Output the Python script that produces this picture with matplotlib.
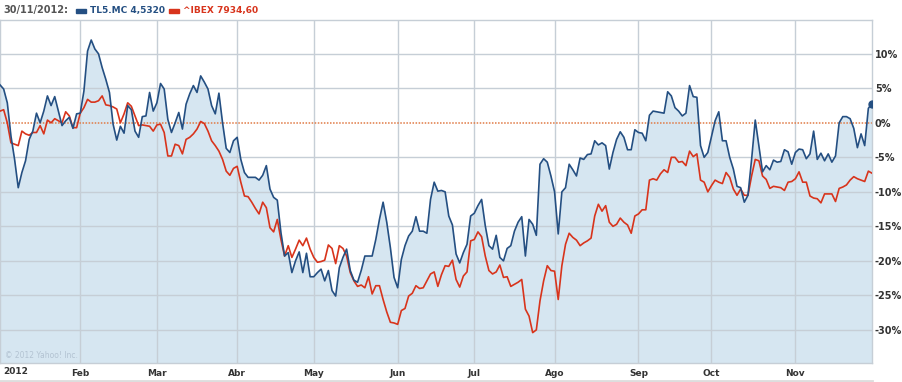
import numpy as np
import pandas as pd
import matplotlib
matplotlib.use("Agg")
import matplotlib.pyplot as plt
from matplotlib.lines import Line2D
from matplotlib.patches import Rectangle

# trading days (weekdays) Jan 2 - Nov 30 2012
dates = pd.bdate_range("2012-01-02", "2012-11-30")

# % change, TL5.MC
tl5 = [
    5.5, 4.9, 2.9, -1.9, -5.3, -9.4, -7.2, -5.5, -2.4, -1.2, 1.4, 0.0, 1.7, 3.9, 2.5,
    3.8, 1.7, -0.4, 0.3, 0.8, -0.8, 1.3, 1.4, 4.6, 10.4, 12.0, 10.7, 10.0, 8.0, 6.3,
    4.4, -0.2, -2.5, -0.5, -1.5, 2.5, 1.9, -1.2, -2.1, 0.9, 1.0, 4.4,
    1.7, 2.9, 5.7, 4.9, 0.5, -1.4, 0.0, 1.5, -0.9, 2.7, 4.2, 5.4, 4.4, 6.8, 5.9,
    4.9, 2.5, 1.3, 4.3, 0.0, -3.7, -4.3, -2.6, -2.1, -5.3, -7.2, -7.9, -7.9, -7.9,
    -8.3, -7.6, -6.2, -9.6, -10.8, -11.2, -15.9, -19.3, -18.8, -21.7,
    -20.0, -18.7, -21.7, -18.9, -22.3, -22.3, -21.7, -21.2, -22.9, -21.4, -24.3,
    -25.1, -21.0, -19.5, -18.3, -21.4, -22.8, -23.1, -21.4, -19.3, -19.3, -19.3,
    -16.9, -14.0, -11.5, -14.4, -18.1, -22.4, -23.9, -19.8, -17.8, -16.4, -15.7,
    -13.6, -15.7, -15.7, -16.0, -11.1, -8.6, -9.9,
    -9.8, -10.0, -13.5, -14.8, -19.0, -20.3, -18.8, -17.6, -13.5, -13.1, -12.0,
    -11.1, -14.9, -17.8, -18.3, -16.3, -19.5, -20.0, -18.2, -17.8, -15.7, -14.4,
    -13.6, -19.3, -14.0, -14.7, -16.3, -6.0, -5.2, -5.7, -7.7, -10.0, -16.1, -10.0,
    -9.4, -6.0, -6.8, -7.7, -5.1, -5.3,
    -4.6, -4.5, -2.6, -3.2, -2.9, -3.3, -6.7, -4.3, -2.4, -1.3, -2.1, -3.9, -3.9,
    -1.0, -1.4, -1.5, -2.6, 1.1, 1.7, 1.6, 1.5, 1.4, 4.5, 3.9, 2.2, 1.7, 1.0, 1.4,
    5.4, 3.8, 3.7, -3.3, -5.0, -4.3, -2.0, 0.3, 1.6, -2.6, -2.6, -5.0,
    -6.7, -9.2, -9.4, -11.5, -10.5, -5.3, 0.4, -3.3, -7.1, -6.2, -6.8, -5.4, -5.7,
    -5.6, -3.9, -4.2, -6.0, -4.3, -3.8, -3.9, -5.2, -4.5, -1.2, -5.3, -4.4, -5.5,
    -4.5, -5.7, -4.8, 0.0, 0.9, 0.9, 0.6, -0.8, -3.6, -1.6, -3.3, 2.1, 2.8,
]

# % change, ^IBEX
ibex = [
    1.7, 1.9, 0.0, -2.9, -3.1, -3.3, -1.2, -1.6, -1.8, -1.4, -1.4, -0.4, -1.6, 0.4,
    0.0, 0.6, 0.3, 0.0, 1.6, 1.0, -0.7, -0.7, 1.4, 2.2, 3.4, 3.0, 3.0, 3.2, 3.9, 2.6,
    2.5, 2.3, 2.0, 0.0, 1.3, 2.9, 2.4, 1.0, -0.4, -0.3, -0.4, -0.5,
    -1.2, -0.3, -0.2, -1.4, -4.8, -4.8, -3.1, -3.3, -4.5, -2.4, -2.1, -1.6, -0.9,
    0.2, -0.1, -1.2, -2.6, -3.3, -4.1, -5.3, -7.0, -7.6, -6.6, -6.3, -8.6, -10.6,
    -10.7, -11.5, -12.4, -13.2, -11.5, -12.3, -15.2, -15.8, -14.0, -16.9, -19.3,
    -17.8, -19.5,
    -18.3, -17.0, -17.8, -16.7, -18.3, -19.5, -20.2, -20.1, -19.9, -17.7, -18.2,
    -20.4, -17.8, -18.2, -19.3, -21.7, -22.9, -23.7, -23.5, -23.9, -22.3, -24.8,
    -23.6, -23.6, -25.6, -27.4, -28.9, -29.0, -29.2, -27.2, -26.9, -25.1, -24.7,
    -23.6, -24.0, -23.9, -22.9, -21.9, -21.6, -23.7,
    -22.0, -20.7, -20.8, -19.9, -22.7, -23.8, -22.2, -21.6, -17.1, -16.9, -15.8,
    -16.5, -19.3, -21.4, -21.9, -21.6, -20.6, -22.4, -22.3, -23.7, -23.4, -23.1,
    -22.7, -27.0, -28.0, -30.4, -30.0, -25.8, -22.9, -20.7, -21.4, -21.5, -25.6,
    -20.7, -17.6, -16.0, -16.6, -17.0, -17.8, -17.4,
    -17.1, -16.7, -13.5, -11.8, -12.8, -12.0, -14.4, -15.0, -14.7, -13.8, -14.4,
    -14.8, -16.0, -13.5, -13.2, -12.6, -12.6, -8.3, -8.1, -8.3, -7.4, -6.8, -7.2,
    -5.0, -5.0, -5.7, -5.6, -6.2, -4.1, -4.9, -4.5, -8.3, -8.6, -10.0, -9.1, -8.3,
    -8.6, -8.8, -7.2, -7.9,
    -9.6, -10.5, -9.6, -10.5, -10.5, -7.7, -5.3, -5.5, -7.7, -8.2, -9.5, -9.2, -9.3,
    -9.4, -9.8, -8.6, -8.5, -8.1, -7.1, -8.6, -8.6, -10.6, -10.9, -11.0, -11.6,
    -10.3, -10.3, -10.3, -11.4, -9.5, -9.3, -9.0, -8.3, -7.8, -8.1, -8.3, -8.5,
    -7.0, -7.3,
]

month_labels = ["Feb", "Mar", "Abr", "May", "Jun", "Jul", "Ago", "Sep", "Oct", "Nov"]
y_ticks = [10, 5, 0, -5, -10, -15, -20, -25, -30]

BLUE = "#244f82"
RED = "#d8341c"
FILL = "#d6e6f1"
GRID = "#c6ced6"
TXT = "#333333"

W, H = 903, 382
fig = plt.figure(figsize=(W / 100, H / 100), dpi=100)
ax = fig.add_axes([0, 19 / H, 872 / W, 343 / H])

x = np.arange(len(dates))
month_idx = [i for i in range(1, len(dates)) if dates[i].month != dates[i - 1].month]

ax.fill_between(x, tl5, -40, color=FILL, lw=0, zorder=1)
for v in y_ticks:
    if v != 0:
        ax.axhline(v, color=GRID, lw=1, zorder=2)
for m in month_idx:
    ax.axvline(m, color=GRID, lw=1, zorder=2)
ax.axhline(0, color="#e07a45", lw=1.1, ls=(0, (1, 1)), zorder=2.5)

ax.plot(x, ibex, color=RED, lw=1.2, zorder=3)
ax.plot(x, tl5, color=BLUE, lw=1.2, zorder=4)
ax.plot(x[-1], tl5[-1], "o", ms=5, color=BLUE, zorder=5)

ax.set_xlim(0, len(x) - 1)
ax.set_ylim(-34.8, 14.9)

ax.yaxis.tick_right()
ax.set_yticks(y_ticks, [f"{v}%" for v in y_ticks])
ax.tick_params(axis="y", length=0, pad=2, labelsize=7, labelcolor=TXT)
ax.set_xticks(month_idx, month_labels)
ax.tick_params(axis="x", length=0, pad=4, labelsize=6.5, labelcolor=TXT)
for lab in ax.get_xticklabels() + ax.get_yticklabels():
    lab.set_fontweight("bold")

for s in ax.spines.values():
    s.set_color(GRID)
    s.set_linewidth(1)

fig.text(3 / W, 1 - 372 / H, "2012", ha="left", va="center", fontsize=6.5,
         fontweight="bold", color=TXT)
fig.text(5 / W, 1 - 355 / H, "\u00a9 2012 Yahoo! Inc.", ha="left", va="center",
         fontsize=5.5, color="#b3c3d2")

# header legend
fig.text(3 / W, 1 - 10.5 / H, "30/11/2012:", ha="left", va="center", fontsize=7,
         fontweight="bold", color="#555555")
fig.add_artist(Rectangle((76 / W, 1 - 13 / H), 10 / W, 4 / H, transform=fig.transFigure,
                         color=BLUE))
fig.text(90 / W, 1 - 10.5 / H, "TL5.MC 4,5320", ha="left", va="center", fontsize=6.5,
         fontweight="bold", color=BLUE)
fig.add_artist(Rectangle((169 / W, 1 - 13 / H), 10 / W, 4 / H, transform=fig.transFigure,
                         color=RED))
fig.text(183 / W, 1 - 10.5 / H, "^IBEX 7934,60", ha="left", va="center", fontsize=6.5,
         fontweight="bold", color=RED)

fig.add_artist(Line2D([0, 872 / W], [1 - 380.5 / H] * 2, color="#dddddd", lw=2,
                      transform=fig.transFigure))

fig.savefig("out.png", dpi=100)
